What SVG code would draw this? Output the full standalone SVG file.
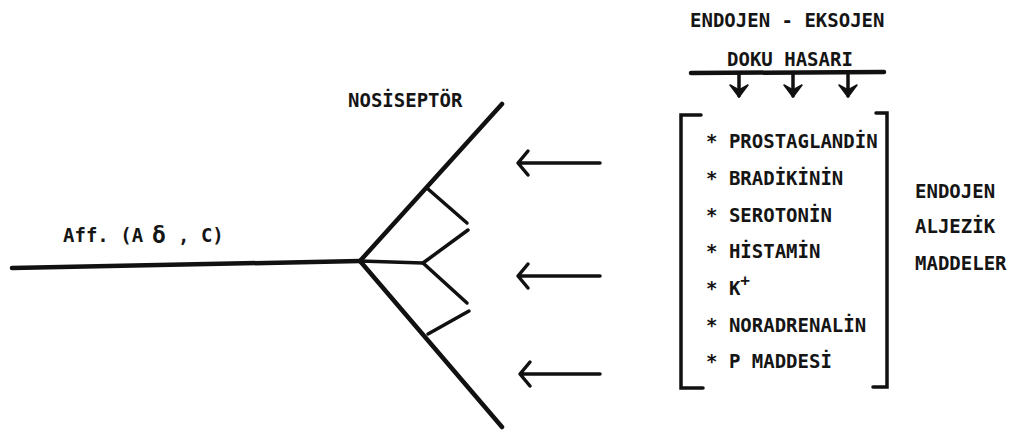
<svg xmlns="http://www.w3.org/2000/svg" width="1013" height="430" viewBox="0 0 1013 430">
<defs>
<style>
.t{font-family:"DejaVu Sans Mono","Liberation Mono",monospace;font-size:19px;font-weight:bold;fill:#151515;}
.n{stroke:#111;stroke-width:4.5;stroke-linecap:round;fill:none;}
.b{stroke:#111;stroke-width:3.5;stroke-linecap:round;fill:none;}
.a{stroke:#111;stroke-width:3.5;stroke-linecap:round;stroke-linejoin:round;fill:none;}
</style>
<marker id="dn" viewBox="0 0 14 20" refX="12" refY="10" markerWidth="14" markerHeight="20" markerUnits="userSpaceOnUse" orient="auto">
<path d="M1,1 L13,10 L1,19 L6,10 Z" fill="#111" stroke="#111" stroke-width="1.5" stroke-linejoin="round"/>
</marker>
</defs>
<rect width="1013" height="430" fill="#fff"/>

<g id="afferent-label">
<text class="t" x="63" y="242">Aff. (A</text>
<text class="t" x="152" y="243" style="font-size:23px">δ</text>
<text class="t" x="178" y="242">, C)</text>
</g>

<g id="nociceptor-label">
<text class="t" x="348" y="107">NOSİSEPTÖR</text>
</g>

<g id="connectors">
<path class="n" d="M12,268 L360,261"/>
<path class="n" d="M360,261 L502,104"/>
<path class="n" d="M360,261 L502,427"/>
<path class="b" d="M360,261 L423,263"/>
<path class="b" d="M428,189 L467,223"/>
<path class="b" d="M423,263 L468,230"/>
<path class="b" d="M423,263 L467,303"/>
<path class="b" d="M428,334 L469,311"/>
<path class="a" d="M600,163 L518,163 M528,151 L518,163 L528,175"/>
<path class="a" d="M600,276 L518,276 M528,264 L518,276 L528,288"/>
<path class="a" d="M600,374 L520,374 M530,362 L520,374 L530,386"/>
<path class="n" d="M691,73 L884,72"/>
<path class="b" d="M739,73 V96" marker-end="url(#dn)"/>
<path class="b" d="M793,73 V96" marker-end="url(#dn)"/>
<path class="b" d="M848,73 V96" marker-end="url(#dn)"/>
</g>

<g id="tissue-damage">
<text class="t" x="690" y="27">ENDOJEN - EKSOJEN</text>
<text class="t" x="727" y="66">DOKU HASARI</text>
</g>

<g id="algesic-list">
<path class="b" d="M701,115 L681,115 L681,388 L703,388"/>
<path class="b" d="M876,113 L887,113 L887,387 L873,387"/>
<text class="t" x="706" y="148">* PROSTAGLANDİN</text>
<text class="t" x="706" y="185">* BRADİKİNİN</text>
<text class="t" x="706" y="222">* SEROTONİN</text>
<text class="t" x="706" y="258">* HİSTAMİN</text>
<text class="t" x="706" y="295">* K<tspan dy="-9" style="font-size:16px">+</tspan></text>
<text class="t" x="706" y="332">* NORADRENALİN</text>
<text class="t" x="706" y="368">* P MADDESİ</text>
</g>

<g id="endogenous-label">
<text class="t" x="915" y="198">ENDOJEN</text>
<text class="t" x="915" y="233">ALJEZİK</text>
<text class="t" x="915" y="270">MADDELER</text>
</g>
</svg>
